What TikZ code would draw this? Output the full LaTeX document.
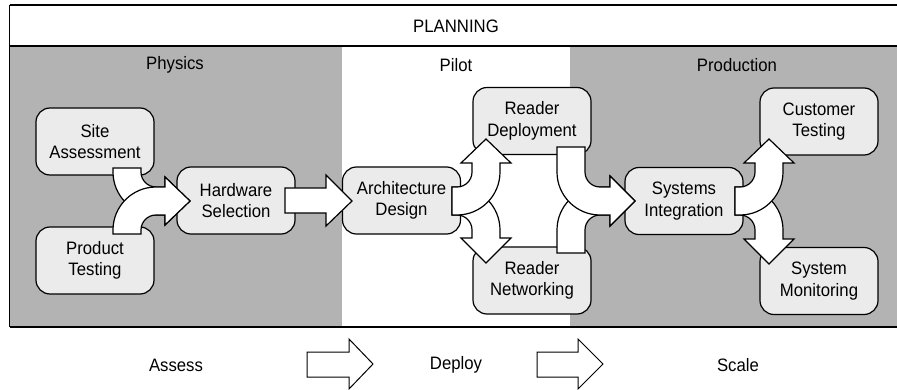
\documentclass[tikz,border=0pt]{standalone}
\usepackage{fontspec}
\setmainfont{Liberation Sans}[FakeStretch=0.93]
\definecolor{bandgray}{HTML}{B3B3B3}
\definecolor{boxgray}{HTML}{EBEBEB}
\begin{document}
\begin{tikzpicture}[x=1pt,y=-1pt,
  txt/.style={font=\fontsize{18}{21.5}\selectfont, inner sep=0pt, align=center},
  stepbox/.style={txt, draw=black, fill=boxgray, line width=1.2pt, rounded corners=14pt,
    minimum width=118pt, minimum height=67pt},
  blockarrow/.style={draw=black, fill=white, line width=1.2pt, line join=miter},
  frameline/.style={draw=black, line width=1.3pt}]
\useasboundingbox (0,0) rectangle (897,390);
% background bands
\fill[bandgray] (9.5,46) rectangle (342,327);
\fill[bandgray] (570,46) rectangle (897,327);
\draw[frameline] (9.5,5) -- (897,5);
\draw[frameline] (9.5,46) -- (897,46);
\draw[frameline] (9.5,327) -- (897,327);
\draw[frameline] (9.5,5) -- (9.5,327);
% headings
\node[txt] (plan) at (456,26) {PLANNING};
\node[txt] (phys) at (175,65) {Physics};
\node[txt] (pilot) at (456,65) {Pilot};
\node[txt] (prod) at (737,65) {Production};
% boxes
\node[stepbox] (sa) at (95,141.5) {Site\\Assessment};
\node[stepbox] (pt) at (95,260.5) {Product\\Testing};
\node[stepbox] (hs) at (236,200.5) {Hardware\\Selection};
\node[stepbox] (ad) at (401.5,200.5) {Architecture\\Design};
\node[stepbox] (rd) at (532,121) {Reader\\Deployment};
\node[stepbox] (rn) at (532,280.5) {Reader\\Networking};
\node[stepbox] (si) at (684,201) {Systems\\Integration};
\node[stepbox] (ct) at (819,121.5) {Customer\\Testing};
\node[stepbox] (sm) at (819,281) {System\\Monitoring};
% Site Assessment -> Hardware Selection
\draw[blockarrow] (113,168) -- (141,168) -- (141,172)
  .. controls (141,180.28) and (147.72,187) .. (156,187) -- (165,187) -- (165,177)
  -- (190,201) -- (165,225) -- (165,215) -- (156,215)
  .. controls (132.25,215) and (113,195.75) .. (113,172) -- cycle;
% Product Testing -> Hardware Selection
\draw[blockarrow] (113,234) -- (141,234) -- (141,230)
  .. controls (141,221.72) and (147.72,215) .. (156,215) -- (165,215) -- (165,225)
  -- (190,201) -- (165,177) -- (165,187) -- (156,187)
  .. controls (132.25,187) and (113,206.25) .. (113,230) -- cycle;
% Hardware Selection -> Architecture Design
\draw[blockarrow] (285,188) -- (326,188) -- (326,175) -- (352,201) -- (326,226)
  -- (326,213) -- (285,213) -- cycle;
% Architecture Design -> Reader Networking
\draw[blockarrow] (452,187) -- (452,215) -- (457,215)
  .. controls (465.28,215) and (472,221.72) .. (472,230) -- (472,238) -- (461,238)
  -- (486,263) -- (511,238) -- (500,238) -- (500,230)
  .. controls (500,206.25) and (480.75,187) .. (457,187) -- cycle;
% Architecture Design -> Reader Deployment
\draw[blockarrow] (452,215) -- (452,187) -- (457,187)
  .. controls (465.28,187) and (472,180.28) .. (472,172) -- (472,163) -- (461,163)
  -- (486,139) -- (511,163) -- (500,163) -- (500,172)
  .. controls (500,195.75) and (480.75,215) .. (457,215) -- cycle;
% Reader Networking -> Systems Integration
\draw[blockarrow] (557,253) -- (585,253) -- (585,230)
  .. controls (585,221.72) and (591.72,215) .. (600,215) -- (610,215) -- (610,226)
  -- (635,201) -- (610,176) -- (610,187) -- (600,187)
  .. controls (576.25,187) and (557,206.25) .. (557,230) -- cycle;
% Reader Deployment -> Systems Integration
\draw[blockarrow] (557,147) -- (585,147) -- (585,172)
  .. controls (585,180.28) and (591.72,187) .. (600,187) -- (610,187) -- (610,176)
  -- (635,201) -- (610,226) -- (610,215) -- (600,215)
  .. controls (576.25,215) and (557,195.75) .. (557,172) -- cycle;
% Systems Integration -> System Monitoring
\draw[blockarrow] (735,187) -- (735,215) -- (740,215)
  .. controls (748.28,215) and (755,221.72) .. (755,230) -- (755,239) -- (744,239)
  -- (769,264) -- (794,239) -- (783,239) -- (783,230)
  .. controls (783,206.25) and (763.75,187) .. (740,187) -- cycle;
% Systems Integration -> Customer Testing
\draw[blockarrow] (735,215) -- (735,187) -- (740,187)
  .. controls (748.28,187) and (755,180.28) .. (755,172) -- (755,163) -- (744,163)
  -- (769,139) -- (794,163) -- (783,163) -- (783,172)
  .. controls (783,195.75) and (763.75,215) .. (740,215) -- cycle;
% bottom row
\node[txt] (assess) at (176,365) {Assess};
\node[txt] (deploy) at (456,365) {Deploy};
\node[txt] (scale) at (738,365) {Scale};
\draw[blockarrow, line width=1pt] (307,352) -- (349,352) -- (349,339) -- (373,364)
  -- (349,389) -- (349,377) -- (307,377) -- cycle;
\draw[blockarrow, line width=1pt] (537,352) -- (578,352) -- (578,339) -- (603,364)
  -- (578,389) -- (578,377) -- (537,377) -- cycle;
\end{tikzpicture}
\end{document}
